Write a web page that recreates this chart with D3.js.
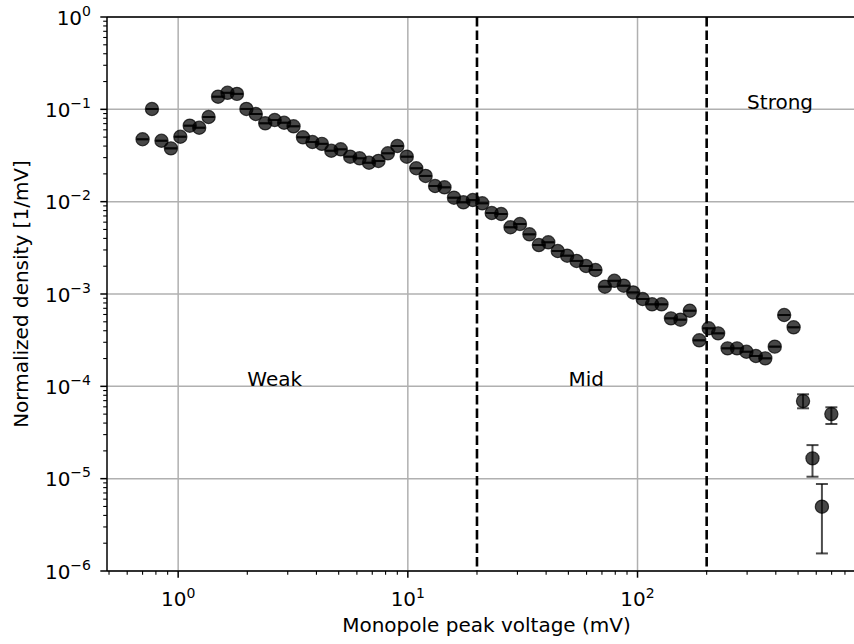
<!DOCTYPE html>
<html>
<head>
<meta charset="utf-8">
<script src="https://cdnjs.cloudflare.com/ajax/libs/d3/7.8.5/d3.min.js"></script>
<style>
  body { margin: 0; background: #fff; }
  svg { font-family: "DejaVu Sans", sans-serif; }
</style>
</head>
<body>
<svg id="chart"></svg>
<script>
// bin centres (mV)
const voltage = [0.700, 0.769, 0.846, 0.930, 1.022, 1.123, 1.235, 1.357, 1.492, 1.640,
  1.803, 1.982, 2.178, 2.394, 2.632, 2.893, 3.180, 3.495, 3.842, 4.223,
  4.642, 5.103, 5.609, 6.165, 6.777, 7.449, 8.188, 9.001, 9.894, 10.88,
  11.95, 13.14, 14.44, 15.88, 17.45, 19.18, 21.09, 23.18, 25.48, 28.00,
  30.78, 33.84, 37.19, 40.88, 44.94, 49.40, 54.30, 59.68, 65.61, 72.11,
  79.27, 87.13, 95.78, 105.3, 115.7, 127.2, 139.8, 153.7, 168.9, 185.7,
  204.1, 224.4, 246.6, 271.1, 298.0, 327.6, 360.1, 395.8, 435.0, 478.2,
  525.6, 577.8, 635.1, 698.1];

const density = [0.0474, 0.1008, 0.0457, 0.0378, 0.0505, 0.0665, 0.0632, 0.0826, 0.137, 0.151,
  0.147, 0.101, 0.089, 0.0706, 0.0766, 0.0716, 0.0655, 0.0498, 0.0443, 0.0423,
  0.0356, 0.0369, 0.0307, 0.0295, 0.0264, 0.0276, 0.0334, 0.0401, 0.0307, 0.0230,
  0.0190, 0.01477, 0.01430, 0.01104, 0.00984, 0.01042, 0.00960, 0.00754, 0.00735, 0.00528,
  0.00573, 0.00443, 0.00339, 0.00363, 0.00292, 0.00260, 0.00228, 0.00201, 0.00182, 0.00120,
  0.00139, 0.00123, 0.00104, 0.000883, 0.000773, 0.000773, 0.000545, 0.000527, 0.000659, 0.000315,
  0.000425, 0.000375, 0.000258, 0.000258, 0.000237, 0.000213, 0.000201, 0.000269, 0.000592, 0.000436,
  6.93e-5, 1.66e-5, 4.97e-6, 5.01e-5];

// error bars big enough to see (index -> low / high)
const errIndex = [70, 71, 72, 73];
const errLow  = [5.78e-5, 1.05e-5, 1.55e-6, 3.91e-5];
const errHigh = [8.2e-5, 2.31e-5, 8.75e-6, 5.93e-5];

const regionCuts = [20, 200];
const regionLabels = [
  {text: 'Weak', x: 2, y: 1e-4},
  {text: 'Mid', x: 50, y: 1e-4},
  {text: 'Strong', x: 300, y: 1e-1}
];

const xMajor = [1, 10, 100];
const yMajor = [1e-6, 1e-5, 1e-4, 1e-3, 1e-2, 1e-1, 1];

// 1. canvas
const width = 854, height = 644;
const plot = {left: 107, right: 866, top: 17, bottom: 571};
const fontSize = 20;

const svg = d3.select('#chart')
  .attr('width', width)
  .attr('height', height);

// 2. scales
const xScale = d3.scaleLog().domain([0.49, 988]).range([plot.left, plot.right]);
const yScale = d3.scaleLog().domain([1e-6, 1]).range([plot.bottom, plot.top]);

// minor ticks
const xMinor = [];
[0.1, 1, 10, 100].forEach(dec => {
  for (let k = 2; k <= 9; k++) {
    const v = dec * k;
    if (v > 0.49 && v < 988) xMinor.push(v);
  }
});
const yMinor = [];
yMajor.slice(0, -1).forEach(dec => {
  for (let k = 2; k <= 9; k++) yMinor.push(dec * k);
});

// 3. grid
svg.append('g').selectAll('line')
  .data(xMajor).enter().append('line')
    .attr('x1', d => xScale(d)).attr('x2', d => xScale(d))
    .attr('y1', plot.top).attr('y2', plot.bottom)
    .attr('stroke', '#b0b0b0').attr('stroke-width', 1.5);
svg.append('g').selectAll('line')
  .data(yMajor).enter().append('line')
    .attr('x1', plot.left).attr('x2', plot.right)
    .attr('y1', d => yScale(d)).attr('y2', d => yScale(d))
    .attr('stroke', '#b0b0b0').attr('stroke-width', 1.5);

// 4. region lines + labels
svg.append('g').selectAll('line')
  .data(regionCuts).enter().append('line')
    .attr('x1', d => xScale(d)).attr('x2', d => xScale(d))
    .attr('y1', plot.top).attr('y2', plot.bottom)
    .attr('stroke', '#000').attr('stroke-width', 2.6)
    .attr('stroke-dasharray', '9.5,4');

svg.append('g').selectAll('text')
  .data(regionLabels).enter().append('text')
    .attr('x', d => xScale(d.x))
    .attr('y', d => yScale(d.y))
    .attr('font-size', fontSize)
    .attr('fill', '#000')
    .text(d => d.text);

// 5. data points with error bars
const points = voltage.map((v, i) => {
  const j = errIndex.indexOf(i);
  return {
    x: v, y: density[i],
    lo: j >= 0 ? errLow[j] : density[i],
    hi: j >= 0 ? errHigh[j] : density[i]
  };
});

const pt = svg.append('g').selectAll('g.pt')
  .data(points).enter().append('g').attr('class', 'pt');

pt.append('line')
  .attr('x1', d => xScale(d.x)).attr('x2', d => xScale(d.x))
  .attr('y1', d => yScale(d.lo)).attr('y2', d => yScale(d.hi))
  .attr('stroke', '#000').attr('stroke-opacity', 0.7).attr('stroke-width', 2);
pt.selectAll('line.cap')
  .data(d => [d.lo, d.hi].map(v => ({x: d.x, v: v})))
  .enter().append('line')
    .attr('class', 'cap')
    .attr('x1', d => xScale(d.x) - 6).attr('x2', d => xScale(d.x) + 6)
    .attr('y1', d => yScale(d.v)).attr('y2', d => yScale(d.v))
    .attr('stroke', '#000').attr('stroke-opacity', 0.7).attr('stroke-width', 2);
pt.append('circle')
  .attr('cx', d => xScale(d.x))
  .attr('cy', d => yScale(d.y))
  .attr('r', 6.6)
  .attr('fill', '#000').attr('fill-opacity', 0.72)
  .attr('stroke', '#000').attr('stroke-opacity', 0.72).attr('stroke-width', 1.2);

// 6. spines
[[plot.left, plot.top, plot.right, plot.top],
 [plot.left, plot.bottom, plot.right, plot.bottom],
 [plot.left, plot.top, plot.left, plot.bottom]].forEach(s => {
  svg.append('line')
    .attr('x1', s[0]).attr('y1', s[1]).attr('x2', s[2]).attr('y2', s[3])
    .attr('stroke', '#000').attr('stroke-width', 1.5);
});

// ticks
svg.append('g').selectAll('line')
  .data(xMajor).enter().append('line')
    .attr('x1', d => xScale(d)).attr('x2', d => xScale(d))
    .attr('y1', plot.bottom).attr('y2', plot.bottom + 6.7)
    .attr('stroke', '#000').attr('stroke-width', 1.5);
svg.append('g').selectAll('line')
  .data(xMinor).enter().append('line')
    .attr('x1', d => xScale(d)).attr('x2', d => xScale(d))
    .attr('y1', plot.bottom).attr('y2', plot.bottom + 3.8)
    .attr('stroke', '#000').attr('stroke-width', 1.1);
svg.append('g').selectAll('line')
  .data(yMajor).enter().append('line')
    .attr('x1', plot.left - 6.7).attr('x2', plot.left)
    .attr('y1', d => yScale(d)).attr('y2', d => yScale(d))
    .attr('stroke', '#000').attr('stroke-width', 1.5);
svg.append('g').selectAll('line')
  .data(yMinor).enter().append('line')
    .attr('x1', plot.left - 3.8).attr('x2', plot.left)
    .attr('y1', d => yScale(d)).attr('y2', d => yScale(d))
    .attr('stroke', '#000').attr('stroke-width', 1.1);

// tick labels: 10 with superscript exponent
function expOf(d) {
  const e = Math.round(Math.log10(d));
  return e < 0 ? '\u2212' + (-e) : String(e);
}

const xLab = svg.append('g').selectAll('text')
  .data(xMajor).enter().append('text')
    .attr('x', d => xScale(d))
    .attr('y', 606)
    .attr('text-anchor', 'middle')
    .attr('font-size', fontSize)
    .attr('fill', '#000');
xLab.append('tspan').text('10');
xLab.append('tspan').attr('dy', -8).attr('font-size', 14).text(d => expOf(d));

const yLab = svg.append('g').selectAll('text')
  .data(yMajor).enter().append('text')
    .attr('x', 91)
    .attr('y', d => yScale(d) + 7.5)
    .attr('text-anchor', 'end')
    .attr('font-size', fontSize)
    .attr('fill', '#000');
yLab.append('tspan').text('10');
yLab.append('tspan').attr('dy', -9).attr('font-size', 14).text(d => expOf(d));

// axis titles
svg.append('text')
  .attr('x', (plot.left + plot.right) / 2)
  .attr('y', 632)
  .attr('text-anchor', 'middle')
  .attr('font-size', fontSize)
  .attr('fill', '#000')
  .text('Monopole peak voltage (mV)');

svg.append('text')
  .attr('transform', `translate(28,${(plot.top + plot.bottom) / 2}) rotate(-90)`)
  .attr('text-anchor', 'middle')
  .attr('font-size', fontSize)
  .attr('fill', '#000')
  .text('Normalized density [1/mV]');
</script>
</body>
</html>
